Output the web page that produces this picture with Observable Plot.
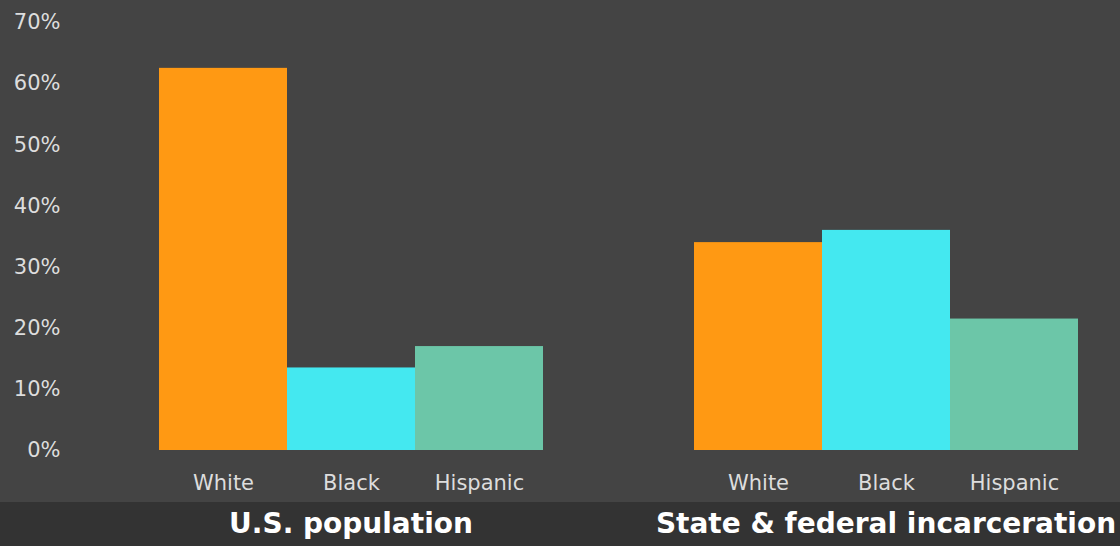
<!DOCTYPE html>
<html>
<head>
<meta charset="utf-8">
<script src="https://cdn.jsdelivr.net/npm/d3@7"></script>
<script src="https://cdn.jsdelivr.net/npm/@observablehq/plot@0.6"></script>
<style>
  html, body { margin: 0; padding: 0; }
  body { width: 1120px; height: 546px; overflow: hidden;
         background: linear-gradient(to bottom, #444444 0px, #444444 502px, #333333 502px, #333333 546px); }
  #chart svg { display: block; }
</style>
</head>
<body>
<div id="chart"></div>
<script>
const groups = ["U.S. population", "State & federal incarceration"];
const races = ["White", "Black", "Hispanic"];
const usPopulation = [62.5, 13.5, 17];
const incarceration = [34, 36, 21.5];
const yTicks = [0, 10, 20, 30, 40, 50, 60, 70];

const data = [];
races.forEach((r, i) => data.push({group: groups[0], race: r, value: usPopulation[i]}));
races.forEach((r, i) => data.push({group: groups[1], race: r, value: incarceration[i]}));

const chart = Plot.plot({
  width: 1120,
  height: 546,
  marginLeft: 158,
  marginRight: 42,
  marginTop: 22,
  marginBottom: 96,
  style: {background: "transparent", color: "#dddddd", fontFamily: "DejaVu Sans, sans-serif"},
  fx: {domain: groups, paddingInner: 0.2804, paddingOuter: 0, label: null},
  x: {domain: races, padding: 0, label: null},
  y: {domain: [0, 70], label: null},
  color: {domain: races, range: ["#ff9913", "#44e8f0", "#6cc6a8"]},
  marks: [
    Plot.barY(data, {fx: "group", x: "race", y: "value", fill: "race"}),
    Plot.axisY({ticks: yTicks, tickFormat: d => d + "%", tickSize: 0, tickPadding: 98, fontSize: 21, fill: "#dddddd", label: null}),
    Plot.axisX({tickSize: 0, tickPadding: 25, fontSize: 21, fill: "#dddddd", label: null}),
    Plot.axisFx({anchor: "bottom", tickSize: 0, tickPadding: 63, fontSize: 28, fontWeight: "bold", fill: "#ffffff", label: null})
  ]
});
document.getElementById("chart").appendChild(chart);
</script>
</body>
</html>
